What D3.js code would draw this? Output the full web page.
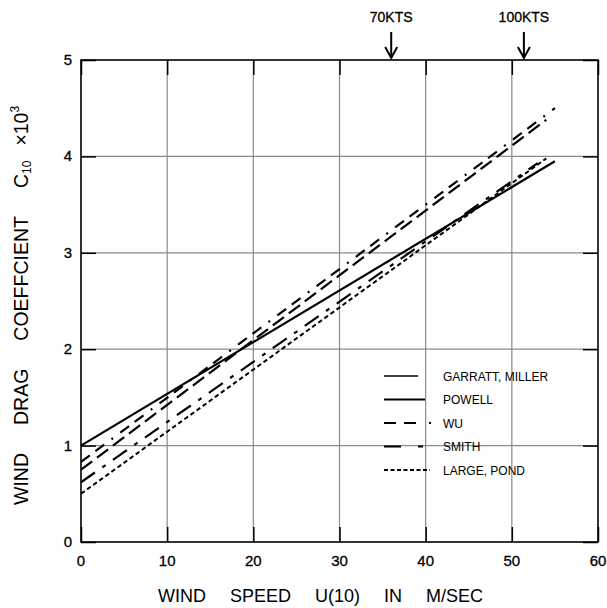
<!DOCTYPE html>
<html>
<head>
<meta charset="utf-8">
<script src="https://cdn.jsdelivr.net/npm/d3@7"></script>
<style>
  body { margin: 0; background: #fff; }
  text { font-family: "Liberation Sans", Arial, sans-serif; fill: #000; }
</style>
</head>
<body>
<svg id="chart" width="607" height="608"></svg>
<script>
// datos (U en m/s, Cd x 10^3)
var series = ["GARRATT, MILLER", "POWELL", "WU", "SMITH", "LARGE, POND"];
var garratt = [[0, 0.75], [54, 4.38]];
var powell = [[0, 1.0], [55, 3.95]];
var wu = [[0, 0.83], [55, 4.50]];
var smith = [[0, 0.62], [53, 3.93]];
var largePond = [[0, 0.50], [54, 3.98]];
var xTicks = [0, 10, 20, 30, 40, 50, 60];
var yTicks = [0, 1, 2, 3, 4, 5];
var marcas = [["70KTS", 36.0], ["100KTS", 51.4]];

var lineas = [garratt, powell, wu, smith, largePond];
// estilo de cada serie: trazo en grafico y en leyenda
var estilos = [
  { w: 2.2, dash: "14,6", legDash: null, legW: 1.3, legLen: 34 },
  { w: 2.2, dash: null, legDash: null, legW: 2.2, legLen: 41 },
  { w: 2.2, dash: "11,7,11,9,2,9", legDash: "12,8,12,13,2", legW: 2, legLen: 47 },
  { w: 2.2, dash: "17,9,4,9", legDash: "17,17,5", legW: 2, legLen: 39 },
  { w: 2, dash: "4.5,3", legDash: "4,2.5", legW: 1.8, legLen: 46 }
];

var svg = d3.select("#chart");
var mLeft = 81, mRight = 598, mTop = 60, mBottom = 542;

var x = d3.scaleLinear().domain([0, 60]).range([mLeft, mRight]);
var y = d3.scaleLinear().domain([0, 5]).range([mBottom, mTop]);

// rejilla gris
svg.append("g").selectAll("line").data(xTicks.slice(1, -1)).enter().append("line")
  .attr("x1", function(d) { return x(d); }).attr("x2", function(d) { return x(d); })
  .attr("y1", mTop).attr("y2", mBottom)
  .attr("stroke", "#8a8a8a").attr("stroke-width", 1.2);
svg.append("g").selectAll("line").data(yTicks.slice(1, -1)).enter().append("line")
  .attr("y1", function(d) { return y(d); }).attr("y2", function(d) { return y(d); })
  .attr("x1", mLeft).attr("x2", mRight)
  .attr("stroke", "#8a8a8a").attr("stroke-width", 1.2);

// ejes con marcas hacia dentro
var tk = 15;
svg.append("g").attr("transform", "translate(0," + mBottom + ")")
  .call(d3.axisTop(x).tickValues(xTicks).tickSize(tk).tickFormat(""))
  .call(function(g) { g.select(".domain").remove(); });
svg.append("g").attr("transform", "translate(0," + mTop + ")")
  .call(d3.axisBottom(x).tickValues(xTicks).tickSize(tk).tickFormat(""))
  .call(function(g) { g.select(".domain").remove(); });
svg.append("g").attr("transform", "translate(" + mLeft + ",0)")
  .call(d3.axisRight(y).tickValues(yTicks).tickSize(tk).tickFormat(""))
  .call(function(g) { g.select(".domain").remove(); });
svg.append("g").attr("transform", "translate(" + mRight + ",0)")
  .call(d3.axisLeft(y).tickValues(yTicks).tickSize(tk).tickFormat(""))
  .call(function(g) { g.select(".domain").remove(); });
svg.selectAll(".tick line").attr("stroke", "#000").attr("stroke-width", 1.5);

// marco
svg.append("rect").attr("x", mLeft).attr("y", mTop)
  .attr("width", mRight - mLeft).attr("height", mBottom - mTop)
  .attr("fill", "none").attr("stroke", "#000").attr("stroke-width", 1.6);

// etiquetas de los ejes
svg.append("g").selectAll("text").data(xTicks).enter().append("text")
  .attr("x", function(d) { return x(d); }).attr("y", mBottom + 24)
  .attr("text-anchor", "middle").attr("font-size", 15)
  .attr("stroke", "#000").attr("stroke-width", 0.3)
  .text(function(d) { return d; });
svg.append("g").selectAll("text").data(yTicks).enter().append("text")
  .attr("x", mLeft - 9).attr("y", function(d) { return y(d) + 5; })
  .attr("text-anchor", "end").attr("font-size", 15)
  .attr("stroke", "#000").attr("stroke-width", 0.3)
  .text(function(d) { return d; });

// lineas de datos
var linea = d3.line().x(function(d) { return x(d[0]); }).y(function(d) { return y(d[1]); });
svg.append("g").selectAll("path").data(lineas).enter().append("path")
  .attr("d", linea)
  .attr("fill", "none").attr("stroke", "#000")
  .attr("stroke-width", function(d, i) { return estilos[i].w; })
  .attr("stroke-dasharray", function(d, i) { return estilos[i].dash; });

// leyenda
var leyenda = svg.append("g").selectAll("g").data(series).enter().append("g")
  .attr("transform", function(d, i) { return "translate(384," + (376 + i * 23.5) + ")"; });
leyenda.append("line")
  .attr("x1", 0).attr("x2", function(d, i) { return estilos[i].legLen; })
  .attr("stroke", "#000")
  .attr("stroke-width", function(d, i) { return estilos[i].legW; })
  .attr("stroke-dasharray", function(d, i) { return estilos[i].legDash; });
leyenda.append("text").attr("x", 59).attr("y", 4.5)
  .attr("font-size", 12).text(function(d) { return d; });

// flechas de nudos
var flechas = svg.append("g").selectAll("g").data(marcas).enter().append("g")
  .attr("transform", function(d) { return "translate(" + x(d[1]) + ",0)"; });
flechas.append("text").attr("y", 22).attr("text-anchor", "middle")
  .attr("font-size", 14).attr("stroke", "#000").attr("stroke-width", 0.3)
  .text(function(d) { return d[0]; });
flechas.append("line").attr("y1", 32).attr("y2", mTop - 2)
  .attr("stroke", "#000").attr("stroke-width", 2);
flechas.append("path").attr("d", "M-6," + (mTop - 13) + "L0," + (mTop - 2) + "L6," + (mTop - 13))
  .attr("fill", "none").attr("stroke", "#000").attr("stroke-width", 2);

// titulos
svg.append("text").attr("x", 158).attr("y", 602)
  .attr("font-size", 18).attr("word-spacing", 19)
  .text("WIND SPEED U(10) IN M/SEC");

var ty = svg.append("text").attr("transform", "translate(28,505) rotate(-90)")
  .attr("font-size", 19.5);
ty.append("tspan").text("WIND");
ty.append("tspan").attr("dx", 28).text("DRAG");
ty.append("tspan").attr("dx", 28).text("COEFFCIENT");
ty.append("tspan").attr("dx", 28).text("C");
ty.append("tspan").attr("font-size", 12).attr("dy", 3).text("10");
ty.append("tspan").attr("dx", 15).attr("dy", -3).text("\u00d710");
ty.append("tspan").attr("font-size", 12).attr("dy", -9).text("3");
</script>
</body>
</html>
